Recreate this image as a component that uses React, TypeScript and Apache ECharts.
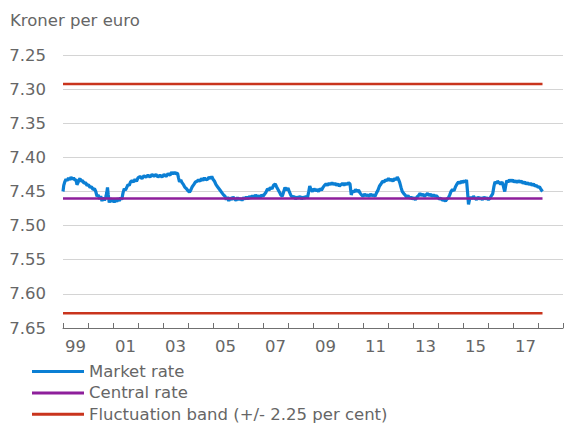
import React, { useEffect, useRef } from "react";
import * as echarts from "echarts";

const titleText = "Kroner per euro";
const seriesNames = ["Market rate", "Central rate", "Fluctuation band (+/- 2.25 per cent)"];
const yTicks = [7.25, 7.3, 7.35, 7.4, 7.45, 7.5, 7.55, 7.6, 7.65];
const xLabelYears = [1999, 2001, 2003, 2005, 2007, 2009, 2011, 2013, 2015, 2017];

const centralRate = 7.46038;
const upperBand = 7.29252;
const lowerBand = 7.62824;
const periodStart = 1999.0;
const periodEnd = 2018.18;

const marketYears = [
  1999.00, 1999.03, 1999.07, 1999.12, 1999.17, 1999.22, 1999.27, 1999.32, 1999.37, 1999.42,
  1999.47, 1999.52, 1999.56, 1999.60, 1999.64, 1999.68, 1999.72, 1999.78, 1999.84, 1999.90,
  1999.96, 2000.02, 2000.08, 2000.14, 2000.20, 2000.26, 2000.31, 2000.36, 2000.41, 2000.46,
  2000.51, 2000.56, 2000.61, 2000.66, 2000.71, 2000.75, 2000.78, 2000.81, 2000.85, 2000.90,
  2000.95, 2001.00, 2001.05, 2001.10, 2001.15, 2001.20, 2001.25, 2001.30, 2001.35, 2001.40,
  2001.45, 2001.50, 2001.55, 2001.60, 2001.65, 2001.70, 2001.76, 2001.82, 2001.88, 2001.94,
  2002.00, 2002.08, 2002.16, 2002.24, 2002.32, 2002.40, 2002.48, 2002.56, 2002.64, 2002.72,
  2002.80, 2002.88, 2002.96, 2003.04, 2003.12, 2003.20, 2003.28, 2003.34, 2003.40, 2003.46,
  2003.52, 2003.58, 2003.62, 2003.66, 2003.71, 2003.76, 2003.82, 2003.88, 2003.94, 2004.00,
  2004.06, 2004.11, 2004.17, 2004.23, 2004.30, 2004.36, 2004.42, 2004.48, 2004.54, 2004.60,
  2004.66, 2004.72, 2004.78, 2004.84, 2004.90, 2004.95, 2005.00, 2005.06, 2005.12, 2005.18,
  2005.24, 2005.30, 2005.36, 2005.42, 2005.48, 2005.53, 2005.58, 2005.63, 2005.68, 2005.74,
  2005.80, 2005.86, 2005.92, 2005.98, 2006.04, 2006.10, 2006.16, 2006.22, 2006.28, 2006.34,
  2006.40, 2006.46, 2006.52, 2006.58, 2006.64, 2006.70, 2006.76, 2006.82, 2006.88, 2006.94,
  2007.00, 2007.06, 2007.12, 2007.18, 2007.24, 2007.30, 2007.36, 2007.42, 2007.49, 2007.54,
  2007.60, 2007.66, 2007.71, 2007.77, 2007.82, 2007.88, 2007.94, 2008.00, 2008.06, 2008.12,
  2008.18, 2008.24, 2008.30, 2008.36, 2008.42, 2008.48, 2008.54, 2008.60, 2008.66, 2008.72,
  2008.78, 2008.83, 2008.87, 2008.92, 2008.98, 2009.04, 2009.10, 2009.16, 2009.22, 2009.28,
  2009.34, 2009.40, 2009.46, 2009.52, 2009.58, 2009.64, 2009.70, 2009.76, 2009.82, 2009.88,
  2009.94, 2010.00, 2010.06, 2010.12, 2010.18, 2010.24, 2010.30, 2010.36, 2010.42, 2010.48,
  2010.53, 2010.58, 2010.64, 2010.70, 2010.76, 2010.82, 2010.88, 2010.94, 2011.00, 2011.06,
  2011.12, 2011.18, 2011.24, 2011.30, 2011.36, 2011.42, 2011.48, 2011.54, 2011.60, 2011.66,
  2011.72, 2011.78, 2011.84, 2011.90, 2011.96, 2012.02, 2012.08, 2012.14, 2012.20, 2012.26,
  2012.32, 2012.37, 2012.42, 2012.47, 2012.52, 2012.57, 2012.63, 2012.68, 2012.74, 2012.80,
  2012.86, 2012.92, 2012.98, 2013.04, 2013.10, 2013.16, 2013.22, 2013.28, 2013.34, 2013.40,
  2013.46, 2013.52, 2013.58, 2013.64, 2013.70, 2013.76, 2013.82, 2013.88, 2013.94, 2014.00,
  2014.06, 2014.12, 2014.18, 2014.24, 2014.30, 2014.36, 2014.42, 2014.47, 2014.52, 2014.58,
  2014.64, 2014.70, 2014.76, 2014.82, 2014.88, 2014.94, 2015.00, 2015.05, 2015.10, 2015.14,
  2015.18, 2015.22, 2015.26, 2015.31, 2015.36, 2015.42, 2015.48, 2015.54, 2015.60, 2015.66,
  2015.72, 2015.78, 2015.84, 2015.90, 2015.96, 2016.02, 2016.08, 2016.14, 2016.19, 2016.24,
  2016.28, 2016.33, 2016.38, 2016.44, 2016.50, 2016.56, 2016.60, 2016.64, 2016.67, 2016.71,
  2016.75, 2016.80, 2016.86, 2016.92, 2016.98, 2017.04, 2017.10, 2017.16, 2017.22, 2017.28,
  2017.34, 2017.40, 2017.46, 2017.52, 2017.58, 2017.64, 2017.70, 2017.76, 2017.82, 2017.88,
  2017.94, 2018.00, 2018.06, 2018.12, 2018.18,
];

const marketRate = [
  7.450, 7.441, 7.436, 7.432, 7.434, 7.430, 7.433, 7.429, 7.432, 7.430,
  7.433, 7.433, 7.440, 7.437, 7.433, 7.431, 7.435, 7.434, 7.438, 7.437,
  7.441, 7.440, 7.444, 7.443, 7.447, 7.446, 7.450, 7.457, 7.455, 7.461,
  7.457, 7.464, 7.459, 7.463, 7.458, 7.452, 7.444, 7.455, 7.466, 7.460,
  7.465, 7.461, 7.466, 7.462, 7.465, 7.460, 7.464, 7.459, 7.462, 7.452,
  7.446, 7.448, 7.444, 7.440, 7.441, 7.436, 7.434, 7.436, 7.432, 7.435,
  7.430, 7.428, 7.431, 7.427, 7.429, 7.426, 7.429, 7.425, 7.428, 7.425,
  7.429, 7.426, 7.429, 7.425, 7.428, 7.424, 7.426, 7.422, 7.424, 7.422,
  7.424, 7.423, 7.430, 7.436, 7.433, 7.437, 7.440, 7.444, 7.446, 7.449,
  7.451, 7.448, 7.443, 7.440, 7.436, 7.435, 7.433, 7.435, 7.431, 7.434,
  7.430, 7.433, 7.432, 7.429, 7.431, 7.428, 7.432, 7.435, 7.440, 7.443,
  7.446, 7.449, 7.452, 7.455, 7.457, 7.462, 7.458, 7.464, 7.459, 7.462,
  7.458, 7.461, 7.463, 7.459, 7.462, 7.460, 7.463, 7.459, 7.461, 7.458,
  7.461, 7.457, 7.460, 7.456, 7.459, 7.455, 7.458, 7.456, 7.459, 7.455,
  7.457, 7.454, 7.451, 7.446, 7.448, 7.444, 7.446, 7.441, 7.439, 7.443,
  7.447, 7.451, 7.455, 7.457, 7.451, 7.444, 7.448, 7.445, 7.451, 7.456,
  7.459, 7.457, 7.461, 7.458, 7.460, 7.457, 7.461, 7.458, 7.460, 7.457,
  7.459, 7.450, 7.442, 7.447, 7.450, 7.446, 7.449, 7.447, 7.450, 7.446,
  7.448, 7.444, 7.441, 7.439, 7.441, 7.438, 7.440, 7.437, 7.440, 7.438,
  7.441, 7.439, 7.442, 7.440, 7.438, 7.441, 7.438, 7.440, 7.437, 7.439,
  7.455, 7.449, 7.451, 7.447, 7.450, 7.448, 7.452, 7.455, 7.457, 7.454,
  7.456, 7.455, 7.457, 7.454, 7.456, 7.455, 7.457, 7.452, 7.448, 7.442,
  7.439, 7.435, 7.436, 7.433, 7.434, 7.431, 7.434, 7.432, 7.435, 7.431,
  7.433, 7.429, 7.432, 7.437, 7.444, 7.450, 7.453, 7.455, 7.458, 7.456,
  7.460, 7.458, 7.461, 7.459, 7.462, 7.458, 7.456, 7.453, 7.456, 7.454,
  7.457, 7.455, 7.453, 7.456, 7.454, 7.457, 7.455, 7.457, 7.456, 7.459,
  7.461, 7.460, 7.463, 7.462, 7.464, 7.461, 7.459, 7.455, 7.450, 7.447,
  7.449, 7.443, 7.439, 7.436, 7.438, 7.435, 7.437, 7.434, 7.436, 7.433,
  7.450, 7.469, 7.462, 7.458, 7.461, 7.457, 7.460, 7.462, 7.458, 7.461,
  7.459, 7.462, 7.458, 7.461, 7.459, 7.462, 7.460, 7.456, 7.453, 7.442,
  7.436, 7.438, 7.435, 7.437, 7.439, 7.436, 7.440, 7.446, 7.450, 7.441,
  7.434, 7.436, 7.433, 7.435, 7.433, 7.436, 7.434, 7.437, 7.434, 7.436,
  7.435, 7.438, 7.436, 7.439, 7.437, 7.440, 7.438, 7.441, 7.439, 7.442,
  7.441, 7.444, 7.443, 7.447, 7.450,
];

const FONT = "'DejaVu Sans', sans-serif";
const FONT_SIZE = 16.5;
const TEXT_COLOR = "#666666";

export default function App() {
  const ref = useRef<HTMLDivElement>(null);

  useEffect(() => {
    if (!ref.current) return;
    const chart = echarts.init(ref.current, null, { renderer: "svg" });

    const marketData = marketYears.map((y, i) => [y, marketRate[i]]);
    const flat = (v: number) => [
      [periodStart, v],
      [periodEnd, v],
    ];

    const option: any = {
      animation: false,
      textStyle: { fontFamily: FONT },
      title: {
        text: titleText,
        left: 10,
        top: 12,
        padding: 0,
        textStyle: { fontFamily: FONT, fontSize: FONT_SIZE, fontWeight: "normal", color: TEXT_COLOR },
      },
      legend: {
        orient: "vertical",
        left: 32,
        top: 363,
        height: 100,
        padding: 0,
        itemWidth: 52,
        itemHeight: 3,
        itemGap: 4.4,
        icon: "rect",
        data: seriesNames,
        textStyle: { fontFamily: FONT, fontSize: FONT_SIZE, color: TEXT_COLOR },
      },
      grid: { left: 63, right: -9, top: 55, bottom: 95, containLabel: false },
      xAxis: [
        {
          type: "value",
          position: "bottom",
          min: 1999,
          max: 2019,
          interval: 0.5,
          axisLine: { show: false },
          axisTick: { show: false },
          splitLine: { show: false },
          axisLabel: {
            margin: 10,
            fontFamily: FONT,
            fontSize: FONT_SIZE,
            color: TEXT_COLOR,
            formatter: (v: number) => {
              const base = Math.floor(v);
              if (Math.abs(v - base - 0.5) > 0.01) return "";
              if (xLabelYears.indexOf(base) < 0) return "";
              return String(base % 100).padStart(2, "0");
            },
          },
        },
        {
          type: "value",
          position: "bottom",
          min: 1999,
          max: 2019,
          interval: 1,
          axisLine: { show: true, lineStyle: { color: "#707070", width: 1 } },
          axisTick: { show: true, inside: true, length: 5, lineStyle: { color: "#707070", width: 1 } },
          axisLabel: { show: false },
          splitLine: { show: false },
        },
      ],
      yAxis: {
        type: "value",
        inverse: true,
        min: yTicks[0],
        max: yTicks[yTicks.length - 1],
        interval: 0.05,
        axisLine: { show: false },
        axisTick: { show: false },
        splitLine: { show: true, lineStyle: { color: "#d4d4d4", width: 1 } },
        axisLabel: {
          margin: 17,
          fontFamily: FONT,
          fontSize: FONT_SIZE,
          color: TEXT_COLOR,
          formatter: (v: number) => v.toFixed(2),
        },
      },
      series: [
        {
          name: seriesNames[0],
          type: "line",
          xAxisIndex: 1,
          data: marketData,
          showSymbol: false,
          lineStyle: { color: "#0b7fd4", width: 3.2 },
          itemStyle: { color: "#0b7fd4" },
          z: 2,
        },
        {
          name: seriesNames[1],
          type: "line",
          xAxisIndex: 1,
          data: flat(centralRate),
          showSymbol: false,
          lineStyle: { color: "#8e1f9b", width: 2.5 },
          itemStyle: { color: "#8e1f9b" },
          z: 3,
        },
        {
          name: seriesNames[2],
          type: "line",
          xAxisIndex: 1,
          data: flat(upperBand),
          showSymbol: false,
          lineStyle: { color: "#c9341d", width: 2.5 },
          itemStyle: { color: "#c9341d" },
          z: 4,
        },
        {
          name: seriesNames[2],
          type: "line",
          xAxisIndex: 1,
          data: flat(lowerBand),
          showSymbol: false,
          lineStyle: { color: "#c9341d", width: 2.5 },
          itemStyle: { color: "#c9341d" },
          z: 4,
        },
      ],
    };

    chart.setOption(option);
    return () => chart.dispose();
  }, []);

  return (
    <div
      ref={ref}
      style={{ position: "absolute", left: 0, top: 0, width: 566, height: 423 }}
    />
  );
}
